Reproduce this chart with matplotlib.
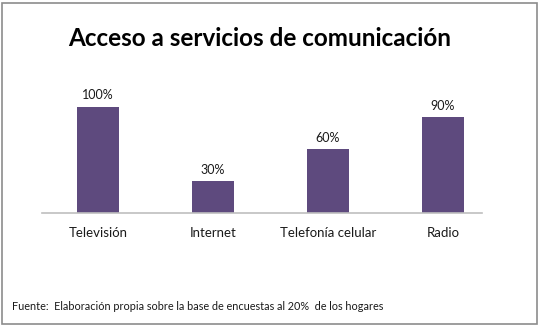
import matplotlib
matplotlib.use("Agg")
import matplotlib.pyplot as plt
from matplotlib.patches import Rectangle

categories = ["Televisión", "Internet", "Telefonía celular", "Radio"]
values = [100, 30, 60, 90]
value_labels = ["100%", "30%", "60%", "90%"]

title = "Acceso a servicios de comunicación"
source = "Fuente:  Elaboración propia sobre la base de encuestas al 20%  de los hogares"

plt.rcParams['font.family'] = ['Lato', 'DejaVu Sans']

fig = plt.figure(figsize=(5.41, 3.27), dpi=100)
W, H = 541, 327

# outer frame
fig.patches.append(Rectangle((2 / W, 3 / H), 535 / W, 321 / H, transform=fig.transFigure,
                             fill=False, edgecolor="#8c8c8c", linewidth=1.2))

ax = fig.add_axes([42 / W, (H - 213) / H, 440 / W, 120 / H])
x = range(len(categories))
ax.bar(x, values, width=0.37, color="#5E4A7E", zorder=2)
ax.set_xlim(-0.487, 3.34)
ax.set_ylim(0, 113)

for xi, v, lab in zip(x, values, value_labels):
    ax.text(xi, v + 5, lab, ha="center", va="bottom", fontsize=9, color="#1a1a1a")

for s in ["top", "right", "left"]:
    ax.spines[s].set_visible(False)
ax.spines["bottom"].set_color("#bfbfbf")
ax.spines["bottom"].set_linewidth(1.2)
ax.set_yticks([])
ax.set_xticks(list(x))
ax.set_xticklabels(categories, fontsize=9.5, color="#1a1a1a")
ax.tick_params(axis="x", length=0, pad=10)

fig.text(260 / W, 1 - 38 / H, title, ha="center", va="center", fontsize=17.5, fontweight="bold")
fig.text(12 / W, 1 - 306 / H, source, ha="left", va="center", fontsize=7.8, color="#1a1a1a")

fig.savefig("out.png", dpi=100)
